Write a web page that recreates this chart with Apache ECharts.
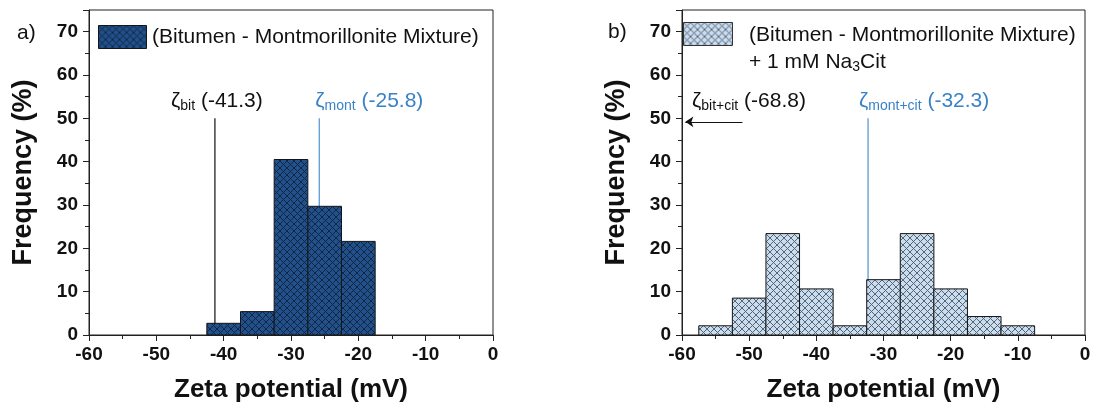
<!DOCTYPE html>
<html>
<head>
<meta charset="utf-8">
<script src="https://cdn.jsdelivr.net/npm/echarts@6/dist/echarts.min.js"></script>
<style>
html,body{margin:0;padding:0;background:#fff;}
#chart{width:1094px;height:409px;}
</style>
</head>
<body>
<div id="chart"></div>
<script>
// ---- data ----
const binWidth = 5;
const binCentersA = [-40, -35, -30, -25, -20];
const freqA = [2.7, 5.4, 40.5, 29.7, 21.6];
const binCentersB = [-55, -50, -45, -40, -35, -30, -25, -20, -15, -10];
const freqB = [2.13, 8.51, 23.40, 10.64, 2.13, 12.77, 23.40, 10.64, 4.26, 2.13];
const zetaBitA = -41.3, zetaMontA = -25.8;
const zetaBitB = -68.8, zetaMontB = -32.3;
const markerTop = 50;      // top of the vertical marker lines (%)
const arrowY = 49.2;       // height of the off-scale arrow (%)
const arrowFrom = -51, arrowTo = -59.5;
const labelY = 54;         // height of annotation labels (%)
const legendA = '(Bitumen - Montmorillonite Mixture)';
const legendB1 = '(Bitumen - Montmorillonite Mixture)';
const legendB2 = '+ 1 mM Na{s|3}Cit';

function hatch(bg, fg, p) {
  const c = document.createElement('canvas');
  c.width = p; c.height = p;
  const g = c.getContext('2d');
  g.fillStyle = bg; g.fillRect(0, 0, p, p);
  g.strokeStyle = fg; g.lineWidth = 1;
  g.beginPath();
  for (let k = -1; k <= 1; k++) {
    g.moveTo(k * p, 0); g.lineTo(k * p + p, p);
    g.moveTo(k * p, p); g.lineTo(k * p + p, 0);
  }
  g.stroke();
  return c;
}
const patA = hatch('#22508a', '#0f2744', 7);
const patB = hatch('#c9ddf0', '#5a6470', 7);

const FONT = 'Liberation Sans, Arial, sans-serif';
const BLUE = '#3a82c6';
const LINEBLUE = '#5b9bd5';

function histData(c, f) { return c.map((x, i) => [x, f[i]]); }

function barSeries(idx, centers, freqs, pat) {
  return {
    type: 'custom', xAxisIndex: idx, yAxisIndex: idx, z: 5,
    data: histData(centers, freqs),
    renderItem: function (params, api) {
      const x = api.value(0), h = api.value(1);
      const p0 = api.coord([x - binWidth / 2, h]);
      const p1 = api.coord([x + binWidth / 2, 0]);
      return {
        type: 'rect',
        shape: { x: p0[0], y: p0[1], width: p1[0] - p0[0], height: p1[1] - p0[1] },
        style: { fill: { image: pat, repeat: 'repeat' }, stroke: '#151515', lineWidth: 1 }
      };
    }
  };
}

function vline(idx, x, color) {
  return {
    type: 'line', xAxisIndex: idx, yAxisIndex: idx, z: 2,
    data: [[x, 0], [x, markerTop]], showSymbol: false, symbol: 'none',
    lineStyle: { color: color, width: 1.3 }, silent: true
  };
}

function richFor(color) {
  return {
    t: { fontSize: 21, fontFamily: FONT, color: color, textBorderWidth: 0 },
    s: { fontSize: 14, fontFamily: FONT, color: color, padding: [11, 0, 0, 0], textBorderWidth: 0 }
  };
}
function label(idx, x, text, color, align, offset) {
  return {
    type: 'scatter', xAxisIndex: idx, yAxisIndex: idx, z: 6,
    data: [[x, labelY]], symbolSize: 0, silent: true,
    itemStyle: { color: color, opacity: 1 },
    label: {
      show: true, position: 'inside', align: align, verticalAlign: 'middle',
      color: color, opacity: 1, textBorderWidth: 0,
      offset: offset, formatter: () => text, rich: richFor(color)
    }
  };
}

function xAxis(idx) {
  return {
    gridIndex: idx, type: 'value', min: -60, max: 0, interval: 10,
    name: 'Zeta potential (mV)', nameLocation: 'middle', nameGap: 42,
    nameTextStyle: { fontSize: 26, fontWeight: 'bold', fontFamily: FONT, color: '#111' },
    axisLine: { show: true, onZero: false, lineStyle: { color: '#222', width: 1 } },
    axisTick: { show: true, inside: false, length: 6, lineStyle: { color: '#222' } },
    minorTick: { show: true, splitNumber: 2, length: 4, lineStyle: { color: '#222' } },
    axisLabel: { fontSize: 19, fontWeight: 'bold', fontFamily: FONT, color: '#111', margin: 10 },
    splitLine: { show: false }
  };
}
function yAxis(idx) {
  return {
    gridIndex: idx, type: 'value', min: 0, max: 75, interval: 10,
    name: 'Frequency (%)', nameLocation: 'middle', nameGap: 52,
    nameTextStyle: { fontSize: 27, fontWeight: 'bold', fontFamily: FONT, color: '#111' },
    axisLine: { show: true, onZero: false, lineStyle: { color: '#222', width: 1 } },
    axisTick: { show: true, inside: false, length: 6, lineStyle: { color: '#222' } },
    minorTick: { show: true, splitNumber: 2, length: 4, lineStyle: { color: '#222' } },
    axisLabel: { fontSize: 19, fontWeight: 'bold', fontFamily: FONT, color: '#111', margin: 11, showMaxLabel: false },
    splitLine: { show: false }
  };
}

const chart = echarts.init(document.getElementById('chart'), null, { renderer: 'canvas' });
chart.setOption({
  animation: false,
  backgroundColor: '#fff',
  grid: [
    { left: 89, top: 10, width: 404, height: 325, show: true, borderColor: '#222', borderWidth: 1, backgroundColor: 'transparent' },
    { left: 682, top: 10, width: 403, height: 325, show: true, borderColor: '#222', borderWidth: 1, backgroundColor: 'transparent' }
  ],
  xAxis: [xAxis(0), xAxis(1)],
  yAxis: [yAxis(0), yAxis(1)],
  series: [
    vline(0, zetaBitA, '#222'),
    vline(0, zetaMontA, LINEBLUE),
    barSeries(0, binCentersA, freqA, patA),
    label(0, zetaBitA, '{t|ζ}{s|bit}{t| (' + zetaBitA + ')}', '#111', 'center', [2, 0]),
    label(0, zetaMontA, '{t|ζ}{s|mont}{t| (' + zetaMontA + ')}', BLUE, 'left', [-4, 0]),

    vline(1, zetaMontB, LINEBLUE),
    barSeries(1, binCentersB, freqB, patB),
    {
      type: 'line', xAxisIndex: 1, yAxisIndex: 1, z: 4, data: [[arrowFrom, arrowY]], showSymbol: false,
      lineStyle: { opacity: 0 }, silent: true,
      markLine: {
        silent: true, animation: false, label: { show: false },
        symbol: ['none', 'arrow'], symbolSize: 8,
        lineStyle: { color: '#111', width: 1, type: 'solid' },
        data: [[{ coord: [arrowFrom, arrowY] }, { coord: [arrowTo, arrowY] }]]
      }
    },
    label(1, -60, '{t|ζ}{s|bit+cit}{t| (' + zetaBitB + ')}', '#111', 'left', [10, 0]),
    label(1, zetaMontB, '{t|ζ}{s|mont+cit}{t| (' + zetaMontB + ')}', BLUE, 'left', [-9, 0])
  ],
  graphic: [
    { type: 'text', left: 17, top: 23, style: { text: 'a)', fontSize: 21, fontFamily: FONT, fill: '#111' } },
    { type: 'text', left: 608, top: 22, style: { text: 'b)', fontSize: 21, fontFamily: FONT, fill: '#111' } },
    { type: 'rect', left: 98, top: 25, shape: { width: 48, height: 23 },
      style: { fill: { image: patA, repeat: 'repeat' }, stroke: '#151515', lineWidth: 1 } },
    { type: 'text', left: 152, top: 27, style: { text: legendA, fontSize: 21, fontFamily: FONT, fill: '#111' } },
    { type: 'rect', left: 683, top: 22, shape: { width: 49, height: 23 },
      style: { fill: { image: patB, repeat: 'repeat' }, stroke: '#333', lineWidth: 1 } },
    { type: 'text', left: 749, top: 25, style: { text: legendB1, fontSize: 21, fontFamily: FONT, fill: '#111' } },
    { type: 'text', left: 749, top: 52, style: {
        text: legendB2, fontSize: 21, fontFamily: FONT, fill: '#111',
        rich: { s: { fontSize: 14, fontFamily: FONT, fill: '#111', padding: [10, 0, 0, 0] } }
      } }
  ]
});
</script>
</body>
</html>
